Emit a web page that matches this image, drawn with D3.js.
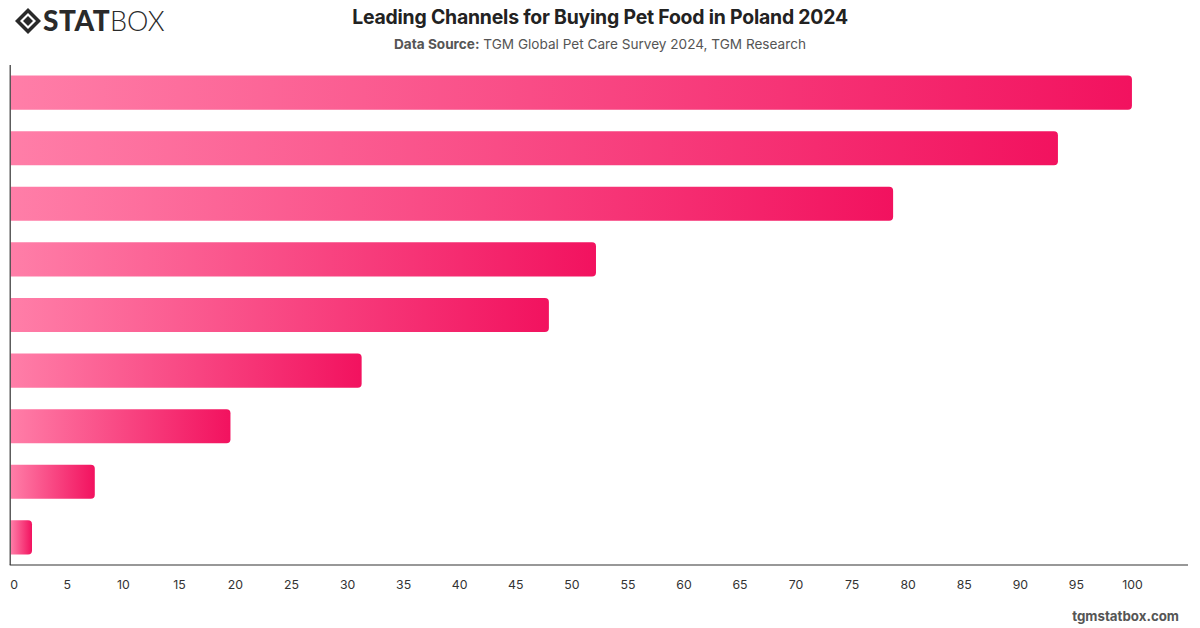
<!DOCTYPE html>
<html>
<head>
<meta charset="utf-8">
<script src="https://cdn.jsdelivr.net/npm/d3@7"></script>
<style>
  html, body { margin: 0; padding: 0; background: #fff; }
  svg { display: block; font-family: Inter, "Helvetica Neue", Arial, sans-serif; }
</style>
</head>
<body>
<svg id="chart" width="1200" height="628"></svg>
<script>
// ---- Data ----
const categories = ["C1", "C2", "C3", "C4", "C5", "C6", "C7", "C8", "C9"];
const values = [100, 93.4, 78.7, 52.2, 48.0, 31.3, 19.6, 7.5, 1.9];
const xTicks = [0, 5, 10, 15, 20, 25, 30, 35, 40, 45, 50, 55, 60, 65, 70, 75, 80, 85, 90, 95, 100];
const titleText = "Leading Channels for Buying Pet Food in Poland 2024";
const sourceLabel = "Data Source:";
const sourceText = " TGM Global Pet Care Survey 2024, TGM Research";
const footerText = "tgmstatbox.com";

const svg = d3.select("#chart");
const m = { left: 10.7, top: 65 };
const plotRight = 1188;
const plotBottom = 565;

const x = d3.scaleLinear().domain([0, 105]).range([m.left, plotRight]);
const y = d3.scaleBand().domain(categories).range([m.top, plotBottom]).paddingInner(0.387).paddingOuter(0.19);

// gradient
const defs = svg.append("defs");
const grad = defs.append("linearGradient").attr("id", "barGrad")
  .attr("x1", "0%").attr("x2", "100%").attr("y1", "0%").attr("y2", "0%");
grad.append("stop").attr("offset", "0%").attr("stop-color", "#ff7ea8");
grad.append("stop").attr("offset", "100%").attr("stop-color", "#f2125f");

// bars: square left, rounded right
const r = 4;
svg.append("g").selectAll("path").data(values).join("path")
  .attr("fill", "url(#barGrad)")
  .attr("d", (v, i) => {
    const x0 = x(0), x1 = x(v), y0 = y(categories[i]), h = y.bandwidth();
    const rr = Math.min(r, (x1 - x0) / 2);
    return `M${x0},${y0} H${x1 - rr} Q${x1},${y0} ${x1},${y0 + rr} V${y0 + h - rr} Q${x1},${y0 + h} ${x1 - rr},${y0 + h} H${x0} Z`;
  });

// axes
const xAxis = d3.axisBottom(x).tickValues(xTicks).tickSize(0).tickPadding(15).tickFormat(d3.format("d"));
const gx = svg.append("g").attr("transform", `translate(0,${plotBottom})`).call(xAxis);
gx.select(".domain").attr("stroke", "#333").attr("stroke-width", 1.2).attr("d", `M${m.left - 1},0H${plotRight}`);
gx.selectAll("text").attr("font-size", 12.3).attr("fill", "#333")
  .attr("font-family", "Inter, 'Helvetica Neue', Arial, sans-serif")
  .attr("dx", d => d === 0 ? 3 : 0);

svg.append("line").attr("x1", m.left - 0.5).attr("x2", m.left - 0.5)
  .attr("y1", m.top).attr("y2", plotBottom).attr("stroke", "#333").attr("stroke-width", 1.2);

// title
svg.append("text").attr("x", 600).attr("y", 24).attr("text-anchor", "middle")
  .attr("font-size", 19.4).attr("font-weight", 700).attr("fill", "#222").attr("letter-spacing", -0.2)
  .text(titleText);
const sub = svg.append("text").attr("x", 600).attr("y", 49).attr("text-anchor", "middle")
  .attr("font-size", 13.6).attr("fill", "#555");
sub.append("tspan").attr("font-weight", 700).text(sourceLabel);
sub.append("tspan").text(sourceText);

// footer
svg.append("text").attr("x", 1179).attr("y", 621).attr("text-anchor", "end")
  .attr("font-size", 13.3).attr("font-weight", 700).attr("fill", "#555").text(footerText);

// logo
const logo = svg.append("g").attr("transform", "translate(15,21)");
logo.append("path").attr("d", "M0,0 L13,-13 L26,0 L13,13 Z").attr("fill", "#2a2a2a");
logo.append("path").attr("d", "M5,0 L13,-8 L21,0 L13,8 Z").attr("fill", "#fff");
logo.append("path").attr("d", "M8,0 L13,-5 L18,0 L13,5 Z").attr("fill", "#2a2a2a");
logo.append("text").attr("x", 28).attr("y", 10).attr("font-size", 28).attr("font-weight", 900)
  .attr("fill", "#2a2a2a").attr("font-family", "Lato, Inter, Arial, sans-serif").attr("letter-spacing", 0.6)
  .text("STAT");
logo.append("text").attr("x", 95).attr("y", 10).attr("font-size", 27).attr("font-weight", 300)
  .attr("fill", "#2a2a2a").attr("font-family", "Lato, Inter, Arial, sans-serif")
  .text("BOX");
</script>
</body>
</html>
